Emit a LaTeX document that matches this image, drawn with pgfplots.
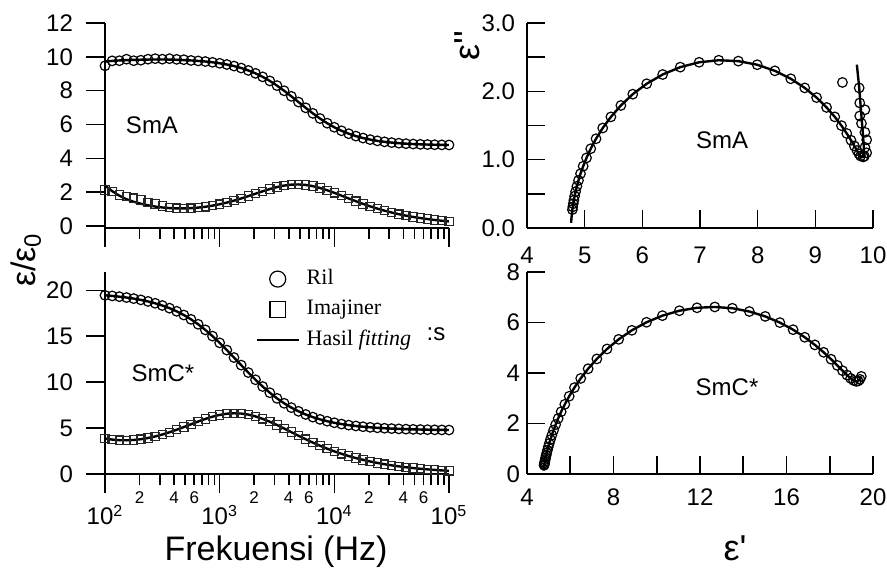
\documentclass[border=0pt]{standalone}
\usepackage{fontspec}
\setmainfont{Liberation Sans}
\newfontfamily\lsans{Liberation Sans}
\newfontfamily\tms{Liberation Serif}
\usepackage{pgfplots}
\usepackage{pgfplotstable}
\pgfplotsset{compat=1.18}

% SmA: log10(f), data eps', data eps'', fit eps', fit eps''
\pgfplotstableread{
lf d1 d2 f1 f2
2.0000 9.47 2.13 9.72 2.39
2.0625 9.76 2.05 9.76 2.06
2.1250 9.77 1.83 9.785 1.79
2.1875 9.86 1.73 9.805 1.58
2.2500 9.77 1.64 9.82 1.43
2.3125 9.80 1.53 9.83 1.314
2.3750 9.86 1.40 9.838 1.221
2.4375 9.89 1.29 9.842 1.148
2.5000 9.86 1.18 9.843 1.094
2.5625 9.89 1.10 9.837 1.058
2.6250 9.85 1.05 9.824 1.039
2.6875 9.83 1.04 9.807 1.037
2.7500 9.785 1.053 9.785 1.053
2.8125 9.757 1.085 9.757 1.085
2.8750 9.722 1.134 9.722 1.134
2.9375 9.676 1.201 9.676 1.201
3.0000 9.618 1.284 9.618 1.284
3.0625 9.545 1.383 9.545 1.383
3.1250 9.453 1.498 9.453 1.498
3.1875 9.337 1.626 9.337 1.626
3.2500 9.195 1.764 9.195 1.764
3.3125 9.022 1.908 9.022 1.908
3.3750 8.816 2.050 8.816 2.050
3.4375 8.574 2.184 8.574 2.184
3.5000 8.298 2.300 8.298 2.300
3.5625 7.992 2.389 7.992 2.389
3.6250 7.665 2.442 7.665 2.442
3.6875 7.325 2.455 7.325 2.455
3.7500 6.985 2.425 6.985 2.425
3.8125 6.658 2.354 6.658 2.354
3.8750 6.352 2.246 6.352 2.246
3.9375 6.076 2.111 6.076 2.111
4.0000 5.834 1.958 5.834 1.958
4.0625 5.628 1.793 5.628 1.793
4.1250 5.455 1.626 5.455 1.626
4.1875 5.313 1.463 5.313 1.463
4.2500 5.197 1.306 5.197 1.306
4.3125 5.105 1.160 5.105 1.160
4.3750 5.032 1.026 5.032 1.026
4.4375 4.974 0.904 4.974 0.904
4.5000 4.928 0.795 4.928 0.795
4.5625 4.893 0.697 4.893 0.697
4.6250 4.865 0.610 4.865 0.610
4.6875 4.843 0.533 4.843 0.533
4.7500 4.826 0.466 4.826 0.466
4.8125 4.813 0.407 4.813 0.407
4.8750 4.802 0.355 4.802 0.355
4.9375 4.794 0.309 4.794 0.309
5.0000 4.787 0.269 4.787 0.269
5.0625 nan nan 4.782 0.235
5.1875 nan nan 4.775 0.178
5.3125 nan nan 4.770 0.135
5.4375 nan nan 4.767 0.100
5.5625 nan nan 4.765 0.076
}\smA

% SmC*
\pgfplotstableread{
lf d1 d2 f1 f2
2.0000 19.460 3.867 19.460 3.867
2.0625 19.394 3.748 19.394 3.748
2.1250 19.314 3.683 19.314 3.683
2.1875 19.219 3.670 19.219 3.670
2.2500 19.103 3.706 19.103 3.706
2.3125 18.963 3.789 18.963 3.789
2.3750 18.795 3.918 18.795 3.918
2.4375 18.593 4.089 18.593 4.089
2.5000 18.350 4.300 18.350 4.300
2.5625 18.060 4.546 18.060 4.546
2.6250 17.717 4.820 17.717 4.820
2.6875 17.313 5.113 17.313 5.113
2.7500 16.843 5.416 16.843 5.416
2.8125 16.304 5.716 16.304 5.716
2.8750 15.694 5.996 15.694 5.996
2.9375 15.017 6.242 15.017 6.242
3.0000 14.281 6.436 14.281 6.436
3.0625 13.497 6.565 13.497 6.565
3.1250 12.683 6.616 12.683 6.616
3.1875 11.859 6.583 11.859 6.583
3.2500 11.046 6.467 11.046 6.467
3.3125 10.262 6.272 10.262 6.272
3.3750 9.526 6.009 9.526 6.009
3.4375 8.849 5.691 8.849 5.691
3.5000 8.239 5.334 8.239 5.334
3.5625 7.700 4.952 7.700 4.952
3.6250 7.230 4.559 7.230 4.559
3.6875 6.826 4.168 6.826 4.168
3.7500 6.483 3.786 6.483 3.786
3.8125 6.193 3.422 6.193 3.422
3.8750 5.950 3.079 5.950 3.079
3.9375 5.748 2.760 5.748 2.760
4.0000 5.580 2.467 5.580 2.467
4.0625 5.440 2.199 5.440 2.199
4.1250 5.324 1.956 5.324 1.956
4.1875 5.229 1.737 5.229 1.737
4.2500 5.149 1.540 5.149 1.540
4.3125 5.083 1.364 5.083 1.364
4.3750 5.028 1.207 5.028 1.207
4.4375 4.982 1.067 4.982 1.067
4.5000 4.944 0.942 4.944 0.942
4.5625 4.912 0.832 4.912 0.832
4.6250 4.885 0.734 4.885 0.734
4.6875 4.862 0.648 4.862 0.648
4.7500 4.842 0.571 4.842 0.571
4.8125 4.826 0.503 4.826 0.503
4.8750 4.812 0.444 4.812 0.444
4.9375 4.800 0.391 4.800 0.391
5.0000 4.790 0.344 4.790 0.344
5.1250 nan nan 4.773 0.268
5.2500 nan nan 4.761 0.207
5.4375 nan nan 4.748 0.141
}\smC

\pgfplotsset{
  panel/.style={
    scale only axis,
    axis x line*=bottom, axis y line*=left,
    axis line style={line width=1pt},
    every tick/.style={black, line width=0.8pt},
    tick label style={font=\fontsize{12}{14}\selectfont},
    /pgf/number format/assume math mode=true,
  },
  logx/.style={
    xmin=2, xmax=5, xtick={2,3,4,5},
    minor xtick={2.30103,2.47712,2.60206,2.69897,2.77815,2.84510,2.90309,2.95424,
      3.30103,3.47712,3.60206,3.69897,3.77815,3.84510,3.90309,3.95424,
      4.30103,4.47712,4.60206,4.69897,4.77815,4.84510,4.90309,4.95424},
    tick align=outside, major tick length=9.5pt, minor tick length=5.5pt,
    yticklabel style={xshift=-3pt},
  },
  dat/.style={only marks, mark=o, mark size=2.4pt, black, line width=0.6pt, forget plot},
  sq/.style={only marks, mark=square, mark size=2.1pt, black!85, line width=0.55pt, forget plot},
  fit/.style={no marks, black, line width=1.2pt, forget plot},
}

\begin{document}
\begin{tikzpicture}
\useasboundingbox (0,0) rectangle (443.5pt,286pt);

% top left: SmA vs frequency
\begin{axis}[panel, logx,
  at={(52.5pt,172pt)}, anchor=south west, width=172pt, height=102.5pt,
  ymin=-0.12, ymax=12, ytick={0,2,...,12},
  xticklabels={},
]
\addplot[dat] table[x=lf, y=d1] {\smA};
\addplot[sq] table[x=lf, y=d2] {\smA};
\addplot[fit] table[x=lf, y=f1] {\smA};
\addplot[fit] table[x=lf, y=f2] {\smA};
\end{axis}

% bottom left: SmC* vs frequency
\begin{axis}[panel, logx,
  at={(52.5pt,49pt)}, anchor=south west, width=172pt, height=101pt,
  ymin=0, ymax=22, ytick={0,5,...,20},
  xticklabels={10\textsuperscript{2},10\textsuperscript{3},10\textsuperscript{4},10\textsuperscript{5}},
  xticklabel style={yshift=-2.5pt},
  extra x ticks={2.30103,2.60206,2.77815,3.30103,3.60206,3.77815,4.30103,4.60206,4.77815},
  extra x tick labels={2,4,6,2,4,6,2,4,6},
  extra x tick style={major tick length=5.5pt,
    xticklabel style={font=\fontsize{8.5}{9}\selectfont, yshift=2.5pt}},
  legend style={draw=none, fill=none, at={(axis description cs:0.437,1.030)},
    anchor=north west, font=\tms\fontsize{11}{13}\selectfont, row sep=2.45pt,
    inner sep=0pt, nodes={inner sep=1pt, text height=8pt, text depth=2.75pt}},
  legend cell align=left,
  legend image code/.code={\path[draw=none, fill=none] (0pt,-3pt) rectangle (24pt,3pt);
    \draw[mark repeat=2, mark phase=2, #1]
    plot coordinates {(0pt,0pt) (10.5pt,0pt) (21pt,0pt)};},
]
\addplot[dat] table[x=lf, y=d1] {\smC};
\addplot[sq] table[x=lf, y=d2] {\smC};
\addplot[fit] table[x=lf, y=f1] {\smC};
\addplot[fit] table[x=lf, y=f2] {\smC};
\addlegendimage{only marks, mark=o, mark size=4pt, black, line width=0.6pt}
\addlegendentry{Ril}
\addlegendimage{only marks, mark=square, mark size=3.9pt, black, line width=0.6pt}
\addlegendentry{Imajiner}
\addlegendimage{no marks, black, line width=1pt}
\addlegendentry{Hasil \textit{fitting}}
\end{axis}

% top right: Cole-Cole SmA
\begin{axis}[panel,
  at={(263.5pt,172pt)}, anchor=south west, width=173pt, height=102.5pt,
  xmin=4, xmax=10, ymin=0, ymax=3,
  xtick={4,5,...,10}, ytick={0,1,2,3}, yticklabels={0.0,1.0,2.0,3.0},
  minor ytick={0.5,1.5,2.5},
  tick align=inside, major tick length=9pt, minor tick length=9pt,
  xticklabel style={yshift=-6pt}, yticklabel style={xshift=-2.5pt},
]
\addplot[dat] table[x=d1, y=d2] {\smA};
\addplot[fit] table[x=f1, y=f2] {\smA};
\end{axis}

% bottom right: Cole-Cole SmC*
\begin{axis}[panel,
  at={(263.5pt,49pt)}, anchor=south west, width=173pt, height=101pt,
  xmin=4, xmax=20, ymin=0, ymax=8,
  xtick={4,6,...,20}, xticklabels={4,,8,,12,,16,,20}, ytick={0,2,...,8},
  tick align=inside, major tick length=9pt,
  xticklabel style={yshift=-4pt},
]
\addplot[dat] table[x=d1, y=d2] {\smC};
\addplot[fit] table[x=f1, y=f2] {\smC};
\end{axis}

% texts
\node[font=\fontsize{12}{14}\selectfont] at (76pt,223.5pt) {SmA};
\node[font=\fontsize{12}{14}\selectfont] at (361pt,216pt) {SmA};
\node[font=\fontsize{12}{14}\selectfont] at (81.5pt,99.5pt) {SmC*};
\node[font=\fontsize{12}{14}\selectfont] at (363.5pt,92.5pt) {SmC*};
\node[font=\fontsize{12}{14}\selectfont] at (218pt,119pt) {:s};
\node[font=\fontsize{17}{19}\selectfont] at (138pt,10pt) {Frekuensi (Hz)};
\node[font=\lsans\fontsize{18}{20}\selectfont] at (367.5pt,12pt) {ε'};
\node[font=\lsans\fontsize{18}{20}\selectfont, rotate=90] at (233.5pt,263pt) {ε''};
\node[font=\lsans\fontsize{17}{19}\selectfont, rotate=90] at (13pt,156pt) {ε/ε\textsubscript{0}};
\end{tikzpicture}
\end{document}
